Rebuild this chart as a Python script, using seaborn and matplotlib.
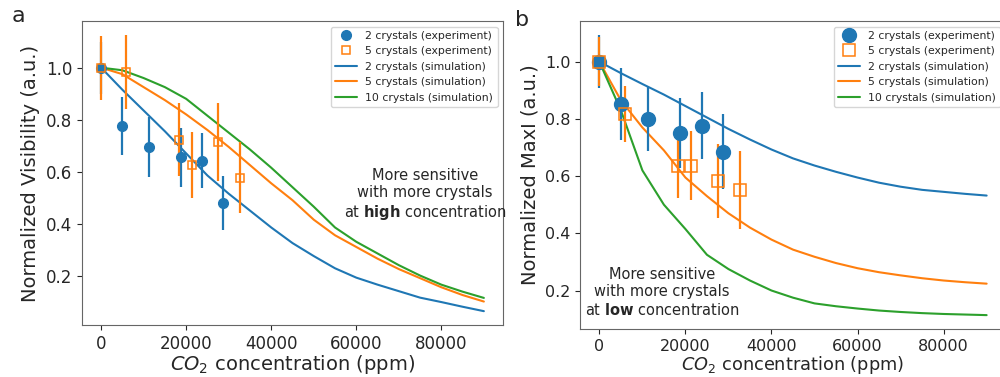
import numpy as np
import pandas as pd
import seaborn as sns
import matplotlib.pyplot as plt

# experiment points (x in ppm)
x_exp_2 = [0, 5000, 11200, 18800, 23800, 28700]
x_exp_5 = [0, 5850, 18350, 21300, 27550, 32600]

# panel a: normalized visibility
vis_exp_2 = [1.0, 0.777, 0.695, 0.655, 0.642, 0.478]
vis_err_2 = [0.10, 0.112, 0.114, 0.113, 0.106, 0.104]
vis_exp_5 = [1.0, 0.983, 0.723, 0.626, 0.714, 0.576]
vis_err_5 = [0.123, 0.143, 0.141, 0.128, 0.15, 0.137]

# panel b: normalized max intensity
maxi_exp_2 = [1.0, 0.852, 0.80, 0.751, 0.776, 0.686]
maxi_err_2 = [0.093, 0.127, 0.111, 0.121, 0.117, 0.131]
maxi_exp_5 = [1.0, 0.817, 0.634, 0.637, 0.584, 0.552]
maxi_err_5 = [0.085, 0.098, 0.11, 0.12, 0.13, 0.137]

# simulations
x_sim = [0, 5000, 10000, 15000, 20000, 25000, 30000, 35000, 40000, 45000,
         50000, 55000, 60000, 65000, 70000, 75000, 80000, 85000, 90000]
vis_sim_2 = [1.0, 0.915, 0.835, 0.755, 0.67, 0.585, 0.515, 0.45, 0.385, 0.325,
             0.275, 0.228, 0.192, 0.165, 0.14, 0.115, 0.098, 0.08, 0.063]
vis_sim_5 = [1.0, 0.975, 0.925, 0.875, 0.82, 0.76, 0.695, 0.625, 0.555, 0.49,
             0.415, 0.355, 0.31, 0.265, 0.225, 0.19, 0.155, 0.125, 0.10]
vis_sim_10 = [1.0, 0.99, 0.96, 0.925, 0.88, 0.815, 0.75, 0.685, 0.615, 0.54,
              0.465, 0.385, 0.33, 0.285, 0.24, 0.2, 0.165, 0.138, 0.114]
maxi_sim_2 = [1.0, 0.96, 0.922, 0.885, 0.845, 0.805, 0.765, 0.728, 0.693, 0.662,
              0.637, 0.615, 0.595, 0.577, 0.563, 0.552, 0.545, 0.538, 0.532]
maxi_sim_5 = [1.0, 0.865, 0.77, 0.69, 0.595, 0.53, 0.47, 0.42, 0.378, 0.343,
              0.318, 0.296, 0.278, 0.264, 0.253, 0.243, 0.235, 0.229, 0.224]
maxi_sim_10 = [1.0, 0.83, 0.62, 0.50, 0.415, 0.325, 0.275, 0.235, 0.20, 0.175,
               0.155, 0.145, 0.137, 0.13, 0.125, 0.121, 0.118, 0.116, 0.114]

sns.set_style("ticks")
plt.rcParams["font.family"] = ["DejaVu Sans"]
c_blue, c_orange, c_green = sns.color_palette("tab10")[:3]

fig = plt.figure(figsize=(10, 3.77), dpi=100)
ax_a = fig.add_axes([0.082, 0.138, 0.421, 0.806])
ax_b = fig.add_axes([0.580, 0.127, 0.426, 0.817])


def draw_panel(ax, exp2, err2, exp5, err5, sim2, sim5, sim10, msize, ylabel,
               tick_size, xlabel_size):
    h1 = ax.errorbar(x_exp_2, exp2, yerr=err2, fmt="o", color=c_blue,
                     ms=msize, elinewidth=1.6, capsize=0, zorder=3)
    h2 = ax.errorbar(x_exp_5, exp5, yerr=err5, fmt="s", color=c_orange,
                     mfc="none", mec=c_orange, ms=msize - 1, mew=1.1,
                     elinewidth=1.6, capsize=0, zorder=3)
    sim = pd.DataFrame({"x": x_sim, "2": sim2, "5": sim5, "10": sim10})
    sns.lineplot(data=sim, x="x", y="2", ax=ax, color=c_blue, lw=1.5)
    sns.lineplot(data=sim, x="x", y="5", ax=ax, color=c_orange, lw=1.5)
    sns.lineplot(data=sim, x="x", y="10", ax=ax, color=c_green, lw=1.5)
    lines = ax.get_lines()[-3:]
    ax.legend([h1[0], h2[0]] + list(lines),
              ["2 crystals (experiment)", "5 crystals (experiment)",
               "2 crystals (simulation)", "5 crystals (simulation)",
               "10 crystals (simulation)"],
              loc="upper right", fontsize=7.8)
    ax.set_xlabel("$CO_2$ concentration (ppm)", fontsize=xlabel_size, labelpad=0)
    ax.set_ylabel(ylabel, fontsize=14)
    ax.set_xticks([0, 20000, 40000, 60000, 80000])
    ax.set_yticks([0.2, 0.4, 0.6, 0.8, 1.0])
    ax.tick_params(labelsize=tick_size)
    for s in ax.spines.values():
        s.set_color("#666666")


draw_panel(ax_a, vis_exp_2, vis_err_2, vis_exp_5, vis_err_5,
           vis_sim_2, vis_sim_5, vis_sim_10, 7, "Normalized Visibility (a.u.)",
           12, 14)
draw_panel(ax_b, maxi_exp_2, maxi_err_2, maxi_exp_5, maxi_err_5,
           maxi_sim_2, maxi_sim_5, maxi_sim_10, 10, "Normalized MaxI (a.u.)",
           11.5, 12.8)

ax_a.text(0.815, 0.428, "More sensitive\nwith more crystals\nat $\\bf{high}$ concentration",
          transform=ax_a.transAxes, ha="center", va="center", fontsize=10.5)
ax_b.text(0.1925, 0.12, "More sensitive\nwith more crystals\nat $\\bf{low}$ concentration",
          transform=ax_b.transAxes, ha="center", va="center", fontsize=10.5)

fig.text(0.012, 0.942, "a", fontsize=16, va="baseline")
fig.text(0.515, 0.930, "b", fontsize=16, va="baseline")

fig.savefig("out.png", dpi=100)
